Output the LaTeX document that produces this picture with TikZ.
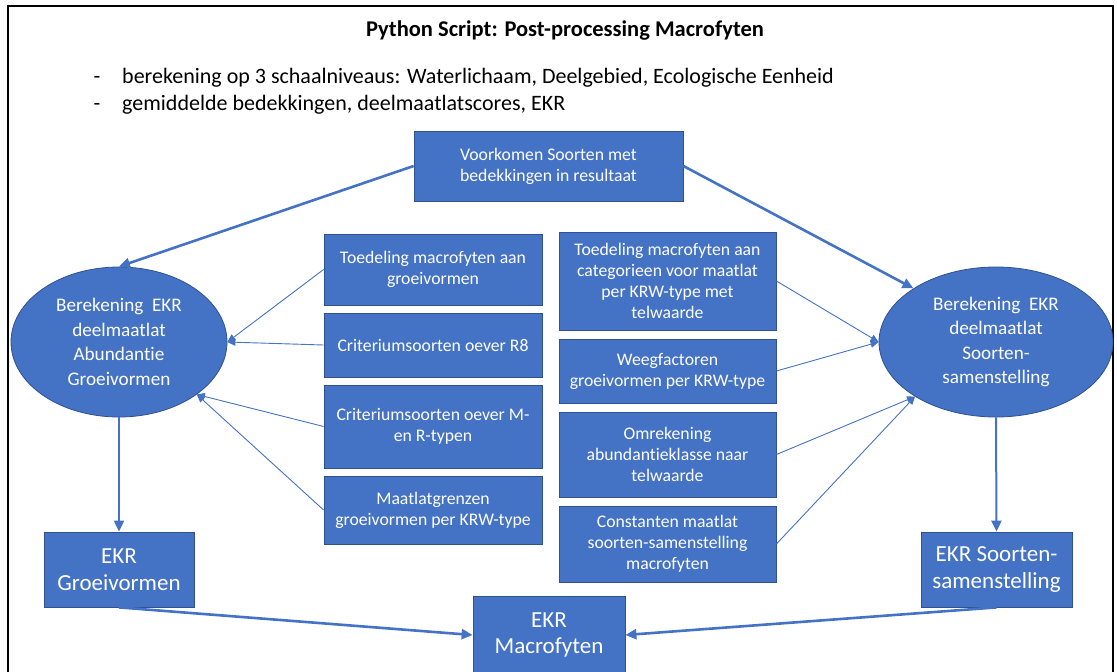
\documentclass[tikz,border=0pt]{standalone}
\usepackage{fontspec}
\setmainfont{Carlito}[Ligatures=NoCommon]
\usetikzlibrary{shapes.geometric,arrows.meta}

\definecolor{officeblue}{HTML}{4472C4}
\definecolor{officeedge}{HTML}{2F528F}

\tikzset{
  box/.style={draw=officeedge, line width=0.8pt, fill=officeblue, text=white,
    align=center, inner sep=0pt, font=\fontsize{17.7}{21}\selectfont},
  calc/.style={ellipse, draw=officeedge, line width=0.8pt, fill=officeblue, text=white,
    align=center, inner sep=0pt, font=\fontsize{19.2}{24.5}\selectfont},
  result/.style={box, font=\fontsize{23}{26.5}\selectfont},
  note/.style={font=\fontsize{22}{26}\selectfont},
  thick link/.style={draw=officeblue, line width=2.6pt,
    -{Triangle[length=11pt,width=10pt]}},
  thin link/.style={draw=officeblue, line width=0.9pt,
    -{Triangle[length=8pt,width=7pt]}},
}

\begin{document}
\begin{tikzpicture}[x=1pt,y=-1pt]
\useasboundingbox (0,0) rectangle (1117,672);

% outer frame (open at the bottom)
\draw[line width=2pt] (8,690) -- (8,6) -- (1113,6) -- (1113,690);

% heading and notes
\node[font=\bfseries\fontsize{22.5}{26}\selectfont] (title) at (565,31)
  {Python Script: Post-processing Macrofyten};
\node[note] (dash1) at (97,80) {-};
\node[note, anchor=west, inner sep=0pt] (note1) at (122,78)
  {berekening op 3 schaalniveaus: Waterlichaam, Deelgebied, Ecologische Eenheid};
\node[note] (dash2) at (97,107) {-};
\node[note, anchor=west, inner sep=0pt] (note2) at (122,105)
  {gemiddelde bedekkingen, deelmaatlatscores, EKR};

% source data
\node[box, minimum width=269pt, minimum height=70pt] (src) at (548.5,166)
  {Voorkomen Soorten met\\bedekkingen in resultaat};

% the two calculations
\node[calc, minimum width=216pt, minimum height=150pt] (abl) at (119,342)
  {Berekening~ EKR\\deelmaatlat\\Abundantie\\Groeivormen};
\node[calc, minimum width=234pt, minimum height=150pt] (abr) at (996,342)
  {Berekening~ EKR\\deelmaatlat\\Soorten-\\samenstelling};

% inputs for the growth-form calculation
\node[box, minimum width=218pt, minimum height=71pt] (l1) at (433,269.5)
  {Toedeling macrofyten aan\\groeivormen};
\node[box, minimum width=218pt, minimum height=64pt] (l2) at (433,345)
  {Criteriumsoorten oever R8};
\node[box, minimum width=218pt, minimum height=83pt] (l3) at (433,426.5)
  {Criteriumsoorten oever M-\\en R-typen};
\node[box, minimum width=218pt, minimum height=68pt] (l4) at (433,510)
  {Maatlatgrenzen\\groeivormen per KRW-type};

% inputs for the species-composition calculation
\node[box, minimum width=217pt, minimum height=98pt] (r1) at (667.5,281)
  {Toedeling macrofyten aan\\categorieen voor maatlat\\per KRW-type met\\telwaarde};
\node[box, minimum width=217pt, minimum height=64pt] (r2) at (667.5,371)
  {Weegfactoren\\groeivormen per KRW-type};
\node[box, minimum width=217pt, minimum height=85pt] (r3) at (667.5,454.5)
  {Omrekening\\abundantieklasse naar\\telwaarde};
\node[box, minimum width=217pt, minimum height=76pt] (r4) at (667.5,544)
  {Constanten maatlat\\soorten-samenstelling\\macrofyten};

% results
\node[result, minimum width=150pt, minimum height=75pt] (ekrg) at (119,569.5)
  {EKR\\Groeivormen};
\node[result, minimum width=151pt, minimum height=75pt] (ekrs) at (996.5,569.5)
  {EKR Soorten-\\samenstelling};
\node[result, minimum width=152pt, minimum height=78pt] (ekrm) at (549,635)
  {EKR\\Macrofyten};

% connectors
\draw[thick link] (src.west) -- (abl.north);
\draw[thick link] (src.east) -- (abr.147);

\draw[thin link] (l1.west) -- (abl.east);
\draw[thin link] (l2.west) -- (abl.east);
\draw[thin link] (l3.west) -- (abl.-34);
\draw[thin link] (l4.west) -- (abl.-34);

\draw[thin link] (r1.east) -- (abr.west);
\draw[thin link] (r2.east) -- (abr.west);
\draw[thin link] (r3.east) -- (abr.-146);
\draw[thin link] (r4.east) -- (abr.-146);

\draw[thick link, line width=2pt] (abl.south) -- (ekrg.north);
\draw[thick link, line width=2pt] (abr.south) -- (ekrs.north);

\draw[thick link] (ekrg.south) -- (ekrm.west);
\draw[thick link] (ekrs.south) -- (ekrm.east);
\end{tikzpicture}
\end{document}
